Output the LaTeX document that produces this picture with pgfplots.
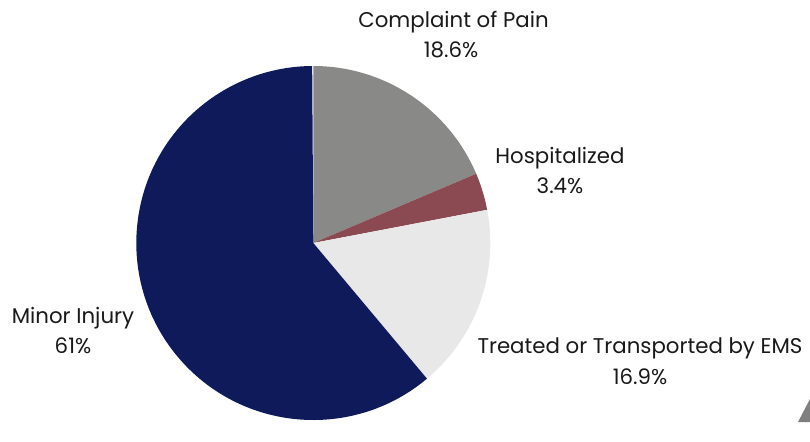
\documentclass[border=0pt]{standalone}
\usepackage{pgfplots}
\pgfplotsset{compat=1.18}
\usepackage{pgfplotstable}
\usepackage{fontspec}
\setmainfont{Poppins}
\definecolor{cPain}{HTML}{898A88}
\definecolor{cHosp}{HTML}{8B4A51}
\definecolor{cEMS}{HTML}{E8E8E8}
\definecolor{cMinor}{HTML}{0E1A5A}
\definecolor{cTri}{HTML}{7F7F7F}
\pgfplotstableread{
label value color
Pain 18.6 cPain
Hosp 3.4 cHosp
EMS 16.9 cEMS
Minor 61.0 cMinor
}\piedata
\begin{document}
\begin{tikzpicture}
\begin{axis}[
  width=810bp, height=422bp, scale only axis,
  xmin=0, xmax=810, ymin=0, ymax=422,
  hide axis, clip=false,
]
\path (axis cs:0,0) rectangle (axis cs:810,422);
\pgfplotstablegetrowsof{\piedata}
\pgfmathtruncatemacro{\nrows}{\pgfplotsretval-1}
\xdef\cumangle{90}
\pgfplotsforeachungrouped \i in {0,...,\nrows}{
  \pgfplotstablegetelem{\i}{value}\of{\piedata}
  \pgfmathsetmacro{\sweep}{\pgfplotsretval*3.6}
  \pgfplotstablegetelem{\i}{color}\of{\piedata}
  \let\wcol\pgfplotsretval
  \pgfmathsetmacro{\endangle}{\cumangle-\sweep}
  \edef\temp{\noexpand\fill[\wcol] (axis cs:313.3,179) -- ++(\cumangle:177bp) arc[start angle=\cumangle, end angle=\endangle, radius=177bp] -- cycle;}
  \temp
  \xdef\cumangle{\endangle}
}
\fill[cTri] (axis cs:810,23) -- (axis cs:798,0) -- (axis cs:810,0) -- cycle;
\begin{scope}[every node/.style={font=\fontsize{21.3bp}{25bp}\selectfont, text=black!90, anchor=base, inner sep=0pt}]
\node at (axis cs:453.5,394) {Complaint of Pain};
\node at (axis cs:451,364) {18.6\%};
\node at (axis cs:560,259) {Hospitalized};
\node at (axis cs:560,229) {3.4\%};
\node at (axis cs:640,69) {Treated or Transported by EMS};
\node at (axis cs:640,38) {16.9\%};
\node at (axis cs:73,99) {Minor Injury};
\node at (axis cs:73,69) {61\%};
\end{scope}
\end{axis}
\end{tikzpicture}
\end{document}
